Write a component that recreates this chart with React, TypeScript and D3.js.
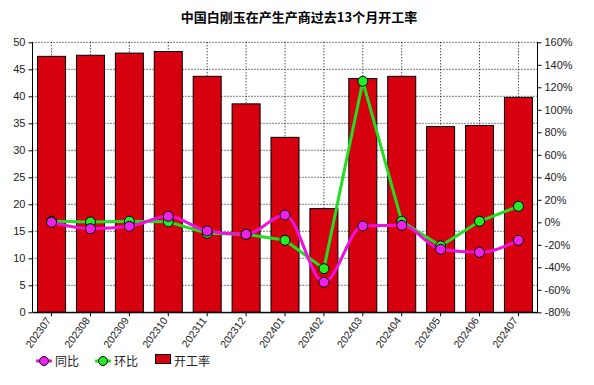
import React, { useRef, useEffect } from 'react';
import * as d3 from 'd3';

const months = ['202307', '202308', '202309', '202310', '202311', '202312', '202401', '202402', '202403', '202404', '202405', '202406', '202407'];
const rate = [47.4, 47.6, 48.0, 48.3, 43.7, 38.6, 32.4, 19.2, 43.3, 43.7, 34.4, 34.6, 39.8];
const yoy = [0, -5.7, -3.6, 5.3, -7.7, -10.7, 6.5, -53.3, -3.3, -2.7, -24, -26.7, -16];
const mom = [0.9, 0.2, 0.9, 0.5, -9.8, -10.7, -16, -41.2, 125.3, 0.9, -21, 0.9, 14.2];
const leftTicks = [0, 5, 10, 15, 20, 25, 30, 35, 40, 45, 50];
const rightTicks = [-80, -60, -40, -20, 0, 20, 40, 60, 80, 100, 120, 140, 160];

function App() {
  const ref = useRef<SVGSVGElement>(null);

  useEffect(() => {
    document.body.style.margin = '0';
    const svg = d3.select(ref.current);
    svg.selectAll('*').remove();

    const left = 32.5, right = 537.5, top = 42.3, bottom = 312.3;
    const font = 'Liberation Sans, Arial, sans-serif';

    const x = d3.scaleBand().domain(months).range([left, right]).paddingInner(0.28).paddingOuter(0.13);
    const xc = (m: string) => (x(m) as number) + x.bandwidth() / 2;
    const y = d3.scaleLinear().domain([0, 50]).range([bottom, top]);
    const y2 = d3.scaleLinear().domain([-80, 160]).range([bottom, top]);

    // grid
    const grid = svg.append('g');
    grid.selectAll('.hg').data(leftTicks.filter(d => d > 0)).enter().append('line')
      .attr('x1', left).attr('x2', right).attr('y1', d => y(d)).attr('y2', d => y(d))
      .attr('stroke', '#000').attr('stroke-width', 1).attr('stroke-dasharray', '1,2');
    grid.selectAll('.vg').data(months).enter().append('line')
      .attr('x1', d => xc(d)).attr('x2', d => xc(d)).attr('y1', top).attr('y2', bottom)
      .attr('stroke', '#000').attr('stroke-width', 1).attr('stroke-dasharray', '1,2');

    // bars
    svg.selectAll('.bar').data(rate).enter().append('rect')
      .attr('x', (d, i) => x(months[i]) as number)
      .attr('y', d => y(d))
      .attr('width', x.bandwidth())
      .attr('height', d => bottom - y(d))
      .attr('fill', '#d7000f')
      .attr('stroke', '#000').attr('stroke-width', 1);

    // lines
    const lineY = d3.line<number>().x((d, i) => xc(months[i])).y(d => y2(d)).curve(d3.curveMonotoneX);
    const lineM = d3.line<number>().x((d, i) => xc(months[i])).y(d => y2(d));

    svg.append('path').datum(mom).attr('d', lineM).attr('fill', 'none')
      .attr('stroke', '#22dd22').attr('stroke-width', 3);
    svg.append('path').datum(yoy).attr('d', lineY).attr('fill', 'none')
      .attr('stroke', '#ee11dd').attr('stroke-width', 3);

    svg.selectAll('.pm').data(mom).enter().append('circle')
      .attr('cx', (d, i) => xc(months[i])).attr('cy', d => y2(d)).attr('r', 5)
      .attr('fill', '#22ee22').attr('stroke', '#000').attr('stroke-width', 1);
    svg.selectAll('.py').data(yoy).enter().append('circle')
      .attr('cx', (d, i) => xc(months[i])).attr('cy', d => y2(d)).attr('r', 5)
      .attr('fill', '#ee22ee').attr('stroke', '#000').attr('stroke-width', 1);

    // axes
    const gl = svg.append('g').attr('transform', `translate(${left},0)`)
      .call(d3.axisLeft(y).tickValues(leftTicks).tickSize(4).tickPadding(3));
    const gr = svg.append('g').attr('transform', `translate(${right},0)`)
      .call(d3.axisRight(y2).tickValues(rightTicks).tickSize(4).tickPadding(3).tickFormat(d => `${d}%`));
    const gb = svg.append('g').attr('transform', `translate(0,${bottom})`)
      .call(d3.axisBottom(x).tickSize(4).tickSizeOuter(0));
    svg.append('line').attr('x1', left).attr('x2', right).attr('y1', bottom).attr('y2', bottom)
      .attr('stroke', '#000');

    [gl, gr, gb].forEach(g => {
      g.select('.domain').attr('stroke', '#000');
      g.selectAll('text').attr('font-family', font).attr('font-size', 11).attr('fill', '#222');
    });
    gl.select('.domain').attr('d', `M0,${top}V${bottom}`);
    gr.select('.domain').attr('d', `M0,${top}V${bottom}`);
    gb.selectAll('text')
      .attr('x', 0).attr('y', 0)
      .attr('font-size', 10.5)
      .attr('text-anchor', 'end')
      .attr('dy', '0.35em')
      .attr('transform', 'translate(-3,6) rotate(-54)');

    // title
    svg.append('text').attr('x', 299).attr('y', 22).attr('text-anchor', 'middle')
      .attr('font-family', 'Noto Sans CJK SC, sans-serif').attr('font-weight', 'bold').attr('font-size', 13)
      .attr('fill', '#000').text('中国白刚玉在产生产商过去13个月开工率');

    // legend
    const lg = svg.append('g').attr('font-family', 'Noto Sans CJK SC, sans-serif').attr('font-size', 12).attr('fill', '#222');
    const items = [
      { name: '同比', color: '#ee11dd', fill: '#ee22ee', x: 36 },
      { name: '环比', color: '#22dd22', fill: '#22ee22', x: 95 },
    ];
    items.forEach(it => {
      lg.append('line').attr('x1', it.x).attr('x2', it.x + 16).attr('y1', 361).attr('y2', 361)
        .attr('stroke', it.color).attr('stroke-width', 3);
      lg.append('circle').attr('cx', it.x + 8).attr('cy', 361).attr('r', 4.5)
        .attr('fill', it.fill).attr('stroke', '#000');
      lg.append('text').attr('x', it.x + 19).attr('y', 365.5).text(it.name);
    });
    lg.append('rect').attr('x', 155.5).attr('y', 354.5).attr('width', 15).attr('height', 9)
      .attr('fill', '#d7000f').attr('stroke', '#000');
    lg.append('text').attr('x', 174).attr('y', 365.5).text('开工率');
  }, []);

  return <svg ref={ref} width={594} height={385} style={{ display: 'block', background: '#fff' }}></svg>;
}

export default App;
